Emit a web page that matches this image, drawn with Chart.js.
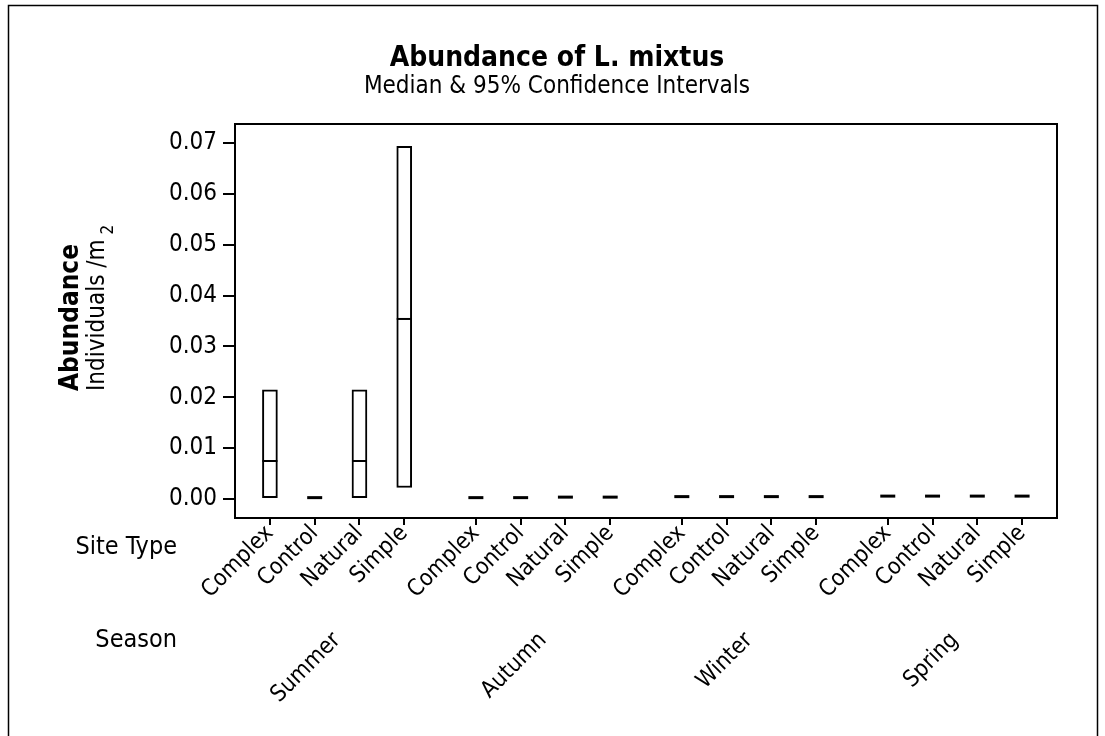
<!DOCTYPE html>
<html>
<head>
<meta charset="utf-8">
<script src="https://cdn.jsdelivr.net/npm/chart.js@4.4.0/dist/chart.umd.min.js"></script>
<style>
  html, body { margin: 0; padding: 0; background: #fff; }
</style>
</head>
<body>
<canvas id="ci" width="1105" height="736"></canvas>
<script>
const seasons = ['Summer', 'Autumn', 'Winter', 'Spring'];
const siteTypes = ['Complex', 'Control', 'Natural', 'Simple'];

// one value per season x site type, in the order Summer..Spring, Complex..Simple
const medians = [0.0075, 0.0003, 0.0075, 0.0354,
                 0.0003, 0.0003, 0.0004, 0.0004,
                 0.0005, 0.0005, 0.0005, 0.0005,
                 0.0006, 0.0006, 0.0006, 0.0006];
const ciLow = [0.0003, 0.0003, 0.0003, 0.0023,
               0.0003, 0.0003, 0.0004, 0.0004,
               0.0005, 0.0005, 0.0005, 0.0005,
               0.0006, 0.0006, 0.0006, 0.0006];
const ciHigh = [0.0215, 0.0003, 0.0215, 0.0693,
                0.0003, 0.0003, 0.0004, 0.0004,
                0.0005, 0.0005, 0.0005, 0.0005,
                0.0006, 0.0006, 0.0006, 0.0006];
const yTicks = [0, 0.01, 0.02, 0.03, 0.04, 0.05, 0.06, 0.07];

const FONT = "'DejaVu Sans Condensed', 'DejaVu Sans', sans-serif";
const gap = 0.6; // extra room between seasons, in category units

const xPos = [];
const siteLabels = [];
seasons.forEach((s, g) => {
  siteTypes.forEach((t, k) => {
    xPos.push(g * (siteTypes.length + gap) + k);
    siteLabels.push(t);
  });
});
const seasonPos = seasons.map((s, g) => g * (siteTypes.length + gap) + (siteTypes.length - 1) / 2);

Chart.defaults.font.family = FONT;
Chart.defaults.color = '#000';

const extras = {
  id: 'extras',
  afterDraw(chart) {
    const { ctx, chartArea: a } = chart;
    ctx.save();
    // plot frame
    ctx.strokeStyle = '#000';
    ctx.lineWidth = 2;
    ctx.strokeRect(a.left, a.top, a.right - a.left, a.bottom - a.top);
    // page border
    ctx.lineWidth = 1.5;
    ctx.beginPath();
    ctx.moveTo(8.5, 740);
    ctx.lineTo(8.5, 5.5);
    ctx.lineTo(1097.5, 5.5);
    ctx.lineTo(1097.5, 740);
    ctx.stroke();

    ctx.fillStyle = '#000';
    // row labels for the two x axes
    ctx.font = '25px ' + FONT;
    ctx.textAlign = 'right';
    ctx.textBaseline = 'middle';
    ctx.fillText('Site Type', 177, 547);
    ctx.fillText('Season', 177, 640);

    // y axis titles
    ctx.textAlign = 'left';
    ctx.textBaseline = 'middle';
    ctx.save();
    ctx.translate(71, 391);
    ctx.rotate(-Math.PI / 2);
    ctx.font = 'bold 26px ' + FONT;
    ctx.fillText('Abundance', 0, 0);
    ctx.restore();

    ctx.save();
    ctx.translate(98, 391);
    ctx.rotate(-Math.PI / 2);
    ctx.font = '24px ' + FONT;
    ctx.fillText('Individuals /m', 0, 0);
    const w = ctx.measureText('Individuals /m').width;
    ctx.font = '17px ' + FONT;
    ctx.fillText('2', w + 5, 11);
    ctx.restore();

    ctx.restore();
  }
};

new Chart(document.getElementById('ci'), {
  type: 'bar',
  data: {
    datasets: [{
      label: '95% CI',
      data: xPos.map((x, i) => ({ x: x, y: [ciLow[i], ciHigh[i]] })),
      backgroundColor: '#fff',
      borderColor: '#000',
      borderWidth: 2,
      borderSkipped: false,
      barThickness: 15,
      order: 2
    }, {
      type: 'scatter',
      label: 'Median',
      data: xPos.map((x, i) => ({ x: x, y: medians[i] })),
      pointStyle: 'line',
      pointRadius: 7.5,
      pointBorderWidth: ctx => ciLow[ctx.dataIndex] === ciHigh[ctx.dataIndex] ? 3 : 2,
      borderColor: '#000',
      backgroundColor: '#000',
      order: 1
    }]
  },
  options: {
    responsive: false,
    animation: false,
    events: [],
    layout: { padding: { left: 57, right: 48, top: 0, bottom: 0 } },
    plugins: {
      legend: { display: false },
      tooltip: { enabled: false },
      title: {
        display: true,
        text: 'Abundance of L. mixtus',
        color: '#000',
        font: { size: 28, weight: 'bold', lineHeight: 1 },
        padding: { top: 45, bottom: 0 }
      },
      subtitle: {
        display: true,
        text: 'Median & 95% Confidence Intervals',
        color: '#000',
        font: { size: 24, weight: 'normal', lineHeight: 1 },
        padding: { top: 2, bottom: 25 }
      }
    },
    scales: {
      x: {
        type: 'linear',
        position: 'bottom',
        offset: false,
        min: -0.78,
        max: 17.58,
        afterBuildTicks: s => { s.ticks = xPos.map(v => ({ value: v })); },
        afterFit: s => { s.height = 112; },
        grid: { offset: false, drawOnChartArea: false, drawTicks: true, tickLength: 7, color: '#000', lineWidth: 2 },
        border: { display: false },
        ticks: {
          autoSkip: false,
          minRotation: 45,
          maxRotation: 45,
          padding: -5,
          font: { size: 23 },
          callback: (v, i) => siteLabels[i]
        }
      },
      season: {
        axis: 'x',
        type: 'linear',
        position: 'bottom',
        offset: false,
        min: -0.78,
        max: 17.58,
        afterBuildTicks: s => { s.ticks = seasonPos.map(v => ({ value: v })); },
        afterFit: s => { s.height = 106; },
        grid: { display: false, drawTicks: false, offset: false },
        border: { display: false },
        ticks: {
          autoSkip: false,
          minRotation: 45,
          maxRotation: 45,
          padding: -3,
          font: { size: 23 },
          callback: (v, i) => seasons[i]
        }
      },
      y: {
        min: -0.0037,
        max: 0.0737,
        afterBuildTicks: s => { s.ticks = yTicks.map(v => ({ value: v })); },
        afterFit: s => { s.width = 178; },
        grid: { drawOnChartArea: false, drawTicks: true, tickLength: 12, color: '#000', lineWidth: 2 },
        border: { display: false },
        ticks: {
          padding: 6,
          font: { size: 24 },
          callback: v => v.toFixed(2)
        }
      }
    }
  },
  plugins: [extras]
});
</script>
</body>
</html>
